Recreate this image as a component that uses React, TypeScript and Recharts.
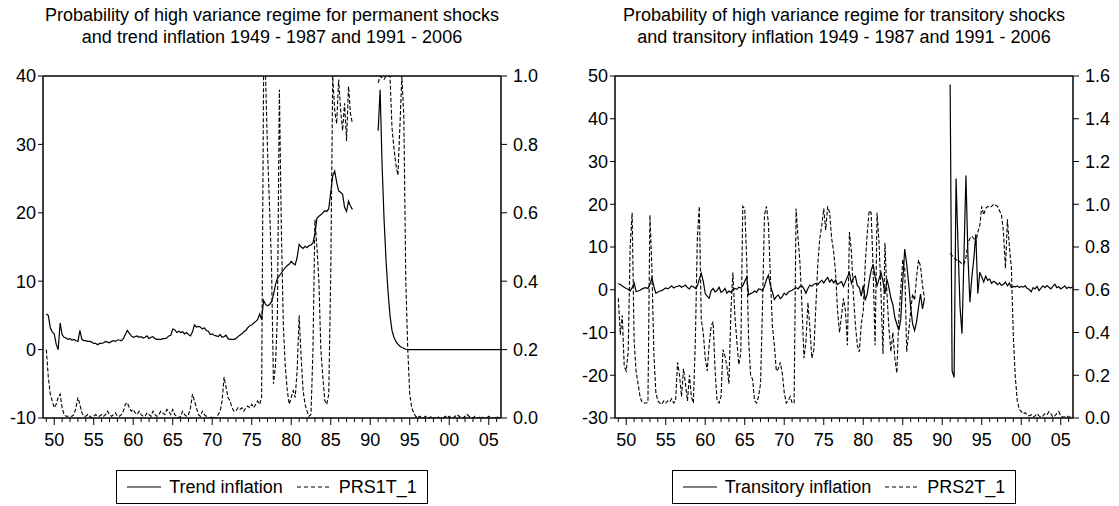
import React from 'react';
import { LineChart, Line, XAxis, YAxis, ReferenceLine, Legend } from 'recharts';

const FONT = '"Liberation Sans", Arial, Helvetica, sans-serif';

// quarterly observations: first block starts 1949Q1, second block 1991Q1
const SEG1_START = 1949;
const SEG2_START = 1991;
const QUARTER = 0.25;
const GAP_YEAR = 1989.5;
const X_DOMAIN: [number, number] = [1948.58, 2006.55];
const YEAR_TICKS: number[] = Array.from({ length: 58 }, (_, i) => 1949 + i);

const LEFT1_TICKS = [-10, 0, 10, 20, 30, 40];
const RIGHT1_TICKS = [0, 0.2, 0.4, 0.6, 0.8, 1.0];
const LEFT2_TICKS = [-30, -20, -10, 0, 10, 20, 30, 40, 50];
const RIGHT2_TICKS = [0, 0.2, 0.4, 0.6, 0.8, 1.0, 1.2, 1.4, 1.6];

// Panel 1: Trend inflation (left axis)
const trendInflation1949 = [
  5.2, 5.0, 3.2, 2.6, 2.3, 0.8, 0.0, 3.9, 2.2, 1.8,
  1.7, 1.5, 1.6, 1.4, 1.5, 1.3, 1.2, 2.8, 1.5, 1.3,
  1.3, 1.2, 1.2, 1.1, 0.9, 0.9, 0.7, 0.9, 0.9, 1.0,
  1.2, 1.1, 1.0, 1.2, 1.3, 1.2, 1.4, 1.4, 1.3, 1.6,
  2.2, 2.8, 2.4, 2.0, 1.8, 1.9, 2.0, 1.8, 1.9, 1.7,
  1.8, 2.0, 1.6, 1.8, 1.9, 1.6, 1.5, 1.5, 1.5, 1.6,
  1.6, 1.7, 2.0, 2.1, 3.0, 2.9, 2.5, 2.7, 2.5, 2.6,
  2.3, 2.5, 2.2, 2.0, 2.6, 3.6, 3.3, 3.4, 3.3, 3.0,
  3.2, 2.8, 2.7, 2.2, 2.3, 2.1, 2.0, 1.9, 2.2, 1.8,
  1.9, 2.1, 1.6, 1.5, 1.5, 1.5, 1.6, 1.9, 2.1, 2.3,
  2.6, 2.8, 3.2, 3.5, 3.6, 3.9, 4.1, 4.4, 5.2, 4.4,
  7.2, 6.6, 6.4, 6.6, 7.0, 8.0, 9.5, 10.4, 10.8, 11.2,
  11.6, 12.0, 12.3, 12.5, 12.9, 12.6, 12.4, 13.5, 15.4, 15.0,
  14.8, 15.1, 14.9, 15.2, 15.3, 15.6, 17.0, 19.2, 19.5, 19.7,
  20.0, 20.3, 20.2, 20.6, 23.0, 25.4, 26.1, 24.5, 23.2, 23.0,
  22.7, 20.8, 20.2, 21.7, 21.0, 20.5,
];
const trendInflation1991 = [
  32, 38, 27, 19, 13, 8.5, 5, 2.8, 1.8, 1.2,
  0.8, 0.5, 0.3, 0.2, 0.05, 0, 0, 0, 0, 0,
  0, 0, 0, 0, 0, 0, 0, 0, 0, 0,
  0, 0, 0, 0, 0, 0, 0, 0, 0, 0,
  0, 0, 0, 0, 0, 0, 0, 0, 0, 0,
  0, 0, 0, 0, 0, 0, 0, 0, 0, 0,
  0, 0, 0,
];

// Panel 1: PRS1T_1 (right axis)
const prs1t1949 = [
  0.20, 0.12, 0.07, 0.05, 0.03, 0.04, 0.06, 0.07, 0.03, 0.01,
  0.005, 0.005, 0.005, 0.005, 0.01, 0.03, 0.06, 0.04, 0.015, 0.005,
  0.005, 0.01, 0.005, 0.0, 0.005, 0.01, 0.005, 0.005, 0.01, 0.005,
  0.01, 0.02, 0.01, 0.005, 0.01, 0.015, 0.005, 0.005, 0.01, 0.02,
  0.04, 0.045, 0.03, 0.02, 0.025, 0.015, 0.01, 0.02, 0.01, 0.005,
  0.005, 0.015, 0.01, 0.005, 0.02, 0.01, 0.005, 0.01, 0.02, 0.015,
  0.01, 0.025, 0.02, 0.01, 0.025, 0.01, 0.005, 0.0, 0.005, 0.02,
  0.01, 0.005, 0.01, 0.03, 0.07, 0.05, 0.03, 0.01, 0.005, 0.02,
  0.01, 0.005, 0.0, 0.0, 0.005, 0.0, 0.0, 0.01, 0.02, 0.05,
  0.12, 0.09, 0.06, 0.05, 0.03, 0.02, 0.02, 0.03, 0.025, 0.03,
  0.02, 0.03, 0.035, 0.03, 0.04, 0.03, 0.04, 0.05, 0.04, 0.06,
  1.0, 1.0, 0.78, 0.62, 0.45, 0.10, 0.15, 0.30, 0.96, 0.55,
  0.27, 0.15, 0.08, 0.04, 0.06, 0.08, 0.06, 0.14, 0.30, 0.18,
  0.08, 0.04, 0.02, 0.005, 0.01, 0.2, 0.58, 0.5, 0.40, 0.20,
  0.12, 0.05, 0.04, 0.07, 0.42, 1.0, 0.9, 0.86, 0.99, 0.9,
  0.84, 0.92, 0.81, 0.97, 0.89, 0.86,
];
const prs1t1991 = [
  0.98, 1.0, 0.995, 0.99, 1.0, 1.0, 1.0, 0.85, 0.79, 0.74,
  0.71, 0.85, 1.0, 0.88, 0.40, 0.20, 0.07, 0.03, 0.015, 0.005,
  0.0, 0.005, 0.0, 0.0, 0.005, 0.0, 0.0, 0.005, 0.0, 0.0,
  0.005, 0.0, 0.0, 0.0, 0.005, 0.0, 0.005, 0.0, 0.0, 0.005,
  0.01, 0.005, 0.0, 0.0, 0.005, 0.01, 0.005, 0.0, 0.0, 0.005,
  0.0, 0.0, 0.005, 0.0, 0.0, 0.0, 0.005, 0.0, 0.0, 0.0,
  0.005, 0.0, 0.0,
];

// Panel 2: Transitory inflation (left axis)
const transInflation1949 = [
  1.4, 1.2, 0.9, 0.6, 0.3, 0.1, -0.3, 0.5, 1.6, -0.4,
  -0.3, -0.1, 0.2, 0.4, 0.5, 0.3, 1.2, 2.8, 0.8, -0.8,
  -0.6, -0.3, -0.2, 0.1, 0.4, 0.2, 0.5, 0.9, 0.4, 0.7,
  0.8, 1.0, 0.6, 0.8, 1.1, 0.5, 0.2, 0.9, 0.7, 0.3,
  0.9, 2.5, 3.9, 2.0, -0.9, -1.5, -2.0, -0.2, 0.3, -0.5,
  -0.2, 0.6, -0.6, -0.3, 0.3, -0.8, -0.3, -0.6, 0.1, 0.3,
  0.1, 0.6, 0.4, 0.9, 2.0, 3.0, -1.2, -0.9, -0.7, -0.3,
  -0.6, 0.2, 0.1, -0.2, 0.8, 2.4, 3.4, 1.0, -0.5, -2.3,
  -1.6, -1.2, -2.1, -1.6, -0.8, -1.2, -0.6, -0.3, -0.1, 0.2,
  0.5, 0.2, 0.8, 0.9, 0.2, -0.8, 0.3, 1.1, 0.8, 1.3,
  1.5, 1.2, 1.8, 2.2, 1.6, 2.3, 2.9, 1.8, 2.4, 1.6,
  2.3, 1.2, 1.6, 1.9, 0.8, 1.9, 3.0, 4.0, 1.5, 2.8,
  3.2, 1.0, 0.5, -1.5, 1.0, -2.5, -1.0, 2.0, 4.5, 6.0,
  3.0, 1.0, 2.5, 4.0, 2.0, -1.0, 2.5, 0.5, -2.0, -3.5,
  -6.5, -8.0, -9.5, -7.0, 2.0, 9.5, 6.0, 1.5, -4.0, -8.0,
  -9.5, -7.5, -4.0, -1.0, -4.5, -2.0,
];
const transInflation1991 = [
  48, -19, -20.5, 26, 10, -4, -10.3, 8, 26.7, 8,
  -2.9, 3, 7.3, 13, -0.9, 4.1, 3.0, 1.8, 3.2, 2.2,
  2.5, 1.5, 2.0, 1.7, 1.2, 1.6, 1.0, 1.3, 1.8, 0.9,
  1.6, 0.5, 0.8, 0.7, 0.9, 0.5, 0.8, 0.6, 0.9, 0.3,
  0.1, -0.5, 0.5, 0.2, 0.8, -0.2, 0.4, 0.9, 0.5, 1.0,
  0.6, 0.2, 0.8, 1.3, 0.5, 0.7, 0.2, 0.5, 0.9, 0.3,
  0.6, 0.4, 0.7,
];

// Panel 2: PRS2T_1 (right axis)
const prs2t1949 = [
  0.56, 0.39, 0.48, 0.24, 0.22, 0.31, 0.80, 0.96, 0.36, 0.22,
  0.16, 0.10, 0.074, 0.07, 0.07, 0.074, 0.95, 0.70, 0.30, 0.12,
  0.08, 0.07, 0.064, 0.08, 0.07, 0.08, 0.074, 0.09, 0.07, 0.08,
  0.26, 0.20, 0.10, 0.23, 0.16, 0.08, 0.20, 0.10, 0.07, 0.36,
  0.84, 0.99, 0.46, 0.40, 0.28, 0.22, 0.34, 0.43, 0.45, 0.22,
  0.08, 0.07, 0.10, 0.32, 0.29, 0.24, 0.16, 0.50, 0.68, 0.48,
  0.36, 0.25, 0.30, 0.99, 0.98, 0.74, 0.36, 0.20, 0.18, 0.08,
  0.07, 0.10, 0.16, 0.52, 0.95, 0.99, 0.91, 0.66, 0.43, 0.34,
  0.22, 0.23, 0.26, 0.21, 0.12, 0.07, 0.08, 0.10, 0.07, 0.07,
  0.98, 0.84, 0.72, 0.52, 0.28, 0.36, 0.54, 0.42, 0.28, 0.32,
  0.52, 0.72, 0.84, 0.90, 0.98, 0.88, 0.99, 0.96, 0.84, 0.78,
  0.68, 0.50, 0.40, 0.48, 0.56, 0.50, 0.34, 0.87, 0.78, 0.58,
  0.44, 0.34, 0.31, 0.44, 0.50, 0.72, 0.86, 0.97, 0.96, 0.70,
  0.34, 0.96, 0.82, 0.58, 0.30, 0.82, 0.58, 0.42, 0.31, 0.40,
  0.28, 0.21, 0.46, 0.60, 0.74, 0.70, 0.31, 0.40, 0.50, 0.58,
  0.55, 0.66, 0.74, 0.71, 0.62, 0.56,
];
const prs2t1991 = [
  0.77, 0.76, 0.75, 0.74, 0.74, 0.73, 0.72, 0.72, 0.75, 0.82,
  0.84, 0.85, 0.84, 0.82, 0.87, 0.90, 0.99, 0.95, 0.98, 0.99,
  0.985, 0.99, 1.0, 0.995, 0.99, 0.97, 0.95, 0.87, 0.70, 0.93,
  0.80, 0.70, 0.38, 0.19, 0.08, 0.04, 0.03, 0.02, 0.025, 0.015,
  0.01, 0.015, 0.005, 0.01, 0.02, 0.01, 0.005, 0.01, 0.02, 0.015,
  0.03, 0.02, 0.005, 0.01, 0.02, 0.03, 0.01, 0.005, 0.005, 0.01,
  0.005, 0.005, 0.005,
];

type Pt = { year: number; v: number | null };

function buildSeries(first: number[], second: number[]): Pt[] {
  const pts: Pt[] = [];
  first.forEach((v, i) => pts.push({ year: SEG1_START + i * QUARTER, v }));
  pts.push({ year: GAP_YEAR, v: null });
  second.forEach((v, i) => pts.push({ year: SEG2_START + i * QUARTER, v }));
  return pts;
}

const X_TICK_SIZE = 8;
const X_TICK_MARGIN = 7;

function YearTick(props: any) {
  const { x, y, payload } = props;
  const yr = Math.round(payload.value);
  const major = yr % 5 === 0;
  const axisY = y - X_TICK_SIZE - X_TICK_MARGIN;
  return (
    <g>
      <line x1={x} x2={x} y1={axisY} y2={axisY + (major ? 7 : 4)} stroke="#000" strokeWidth={1} />
      {major ? (
        <text x={x} y={y} dy="0.71em" textAnchor="middle" fontSize={18} fill="#000" fontFamily={FONT}>
          {String(yr).slice(2)}
        </text>
      ) : null}
    </g>
  );
}

function LegendBox({ solid, dashed }: { solid: string; dashed: string }) {
  return (
    <div style={{ display: 'flex', justifyContent: 'center' }}>
      <div
        style={{
          display: 'flex',
          alignItems: 'center',
          border: '1px solid #000',
          height: 32,
          padding: '0 10px',
          fontSize: 18,
          fontFamily: FONT,
          color: '#000',
          whiteSpace: 'nowrap',
          background: '#fff',
        }}
      >
        <svg width={34} height={8}>
          <line x1={0} y1={4} x2={34} y2={4} stroke="#000" strokeWidth={1.2} />
        </svg>
        <span style={{ marginLeft: 8 }}>{solid}</span>
        <svg width={34} height={8} style={{ marginLeft: 14 }}>
          <line x1={0} y1={4} x2={34} y2={4} stroke="#000" strokeWidth={1.2} strokeDasharray="4 3" />
        </svg>
        <span style={{ marginLeft: 8 }}>{dashed}</span>
      </div>
    </div>
  );
}

type PanelProps = {
  left: number;
  width: number;
  rightAxisWidth: number;
  title: [string, string];
  solidName: string;
  dashedName: string;
  solidData: Pt[];
  dashedData: Pt[];
  leftDomain: [number, number];
  leftTicks: number[];
  rightDomain: [number, number];
  rightTicks: number[];
};

const PLOT_LEFT = 43;
const PLOT_WIDTH = 458;

function Panel(p: PanelProps) {
  return (
    <div style={{ position: 'absolute', left: p.left, top: 0, width: p.width, height: 506 }}>
      <div
        style={{
          position: 'absolute',
          left: PLOT_LEFT - 20,
          width: PLOT_WIDTH + 40,
          top: 4,
          textAlign: 'center',
          fontSize: 18,
          lineHeight: '22px',
          whiteSpace: 'nowrap',
          color: '#000',
        }}
      >
        <div>{p.title[0]}</div>
        <div>{p.title[1]}</div>
      </div>
      <LineChart width={p.width} height={506} margin={{ top: 76, right: 0, bottom: 48, left: 0 }}>
        <XAxis
          dataKey="year"
          type="number"
          domain={X_DOMAIN}
          allowDataOverflow
          ticks={YEAR_TICKS}
          interval={0}
          tick={<YearTick />}
          tickLine={false}
          tickSize={X_TICK_SIZE}
          tickMargin={X_TICK_MARGIN}
          axisLine={{ stroke: '#000', strokeWidth: 1.5 }}
          height={40}
        />
        <YAxis
          yAxisId="left"
          domain={p.leftDomain}
          ticks={p.leftTicks}
          allowDataOverflow
          interval={0}
          width={PLOT_LEFT}
          tickSize={5}
          tickMargin={2}
          axisLine={{ stroke: '#000', strokeWidth: 1.5 }}
          tickLine={{ stroke: '#000' }}
          tick={{ fill: '#000', fontSize: 18, fontFamily: FONT }}
        />
        <YAxis
          yAxisId="right"
          orientation="right"
          domain={p.rightDomain}
          ticks={p.rightTicks}
          allowDataOverflow
          interval={0}
          width={p.rightAxisWidth}
          tickSize={6}
          tickMargin={6}
          tickFormatter={(v: number) => v.toFixed(1)}
          axisLine={{ stroke: '#000', strokeWidth: 1.5 }}
          tickLine={{ stroke: '#000' }}
          tick={{ fill: '#000', fontSize: 18, fontFamily: FONT }}
        />
        <ReferenceLine yAxisId="left" y={p.leftDomain[1]} stroke="#000" strokeWidth={1.5} />
        <Line
          yAxisId="left"
          data={p.solidData}
          dataKey="v"
          name={p.solidName}
          type="linear"
          stroke="#000"
          strokeWidth={1.2}
          dot={false}
          activeDot={false}
          isAnimationActive={false}
        />
        <Line
          yAxisId="right"
          data={p.dashedData}
          dataKey="v"
          name={p.dashedName}
          type="linear"
          stroke="#000"
          strokeWidth={1.1}
          strokeDasharray="4 2"
          dot={false}
          activeDot={false}
          isAnimationActive={false}
        />
        <Legend
          layout="horizontal"
          verticalAlign="middle"
          align="center"
          wrapperStyle={{ left: PLOT_LEFT, top: 470, width: PLOT_WIDTH }}
          content={() => <LegendBox solid={p.solidName} dashed={p.dashedName} />}
        />
      </LineChart>
    </div>
  );
}

export default function App() {
  return (
    <div
      style={{
        position: 'absolute',
        left: 0,
        top: 0,
        width: 1119,
        height: 506,
        overflow: 'hidden',
        background: '#fff',
        fontFamily: FONT,
      }}
    >
      <Panel
        left={0}
        width={560}
        rightAxisWidth={59}
        title={[
          'Probability of high variance regime for permanent shocks',
          'and trend inflation 1949 - 1987 and 1991 - 2006',
        ]}
        solidName="Trend inflation"
        dashedName="PRS1T_1"
        solidData={buildSeries(trendInflation1949, trendInflation1991)}
        dashedData={buildSeries(prs1t1949, prs1t1991)}
        leftDomain={[-10, 40]}
        leftTicks={LEFT1_TICKS}
        rightDomain={[0, 1]}
        rightTicks={RIGHT1_TICKS}
      />
      <Panel
        left={572}
        width={547}
        rightAxisWidth={46}
        title={[
          'Probability of high variance regime for transitory shocks',
          'and transitory inflation 1949 - 1987 and 1991 - 2006',
        ]}
        solidName="Transitory inflation"
        dashedName="PRS2T_1"
        solidData={buildSeries(transInflation1949, transInflation1991)}
        dashedData={buildSeries(prs2t1949, prs2t1991)}
        leftDomain={[-30, 50]}
        leftTicks={LEFT2_TICKS}
        rightDomain={[0, 1.6]}
        rightTicks={RIGHT2_TICKS}
      />
    </div>
  );
}
